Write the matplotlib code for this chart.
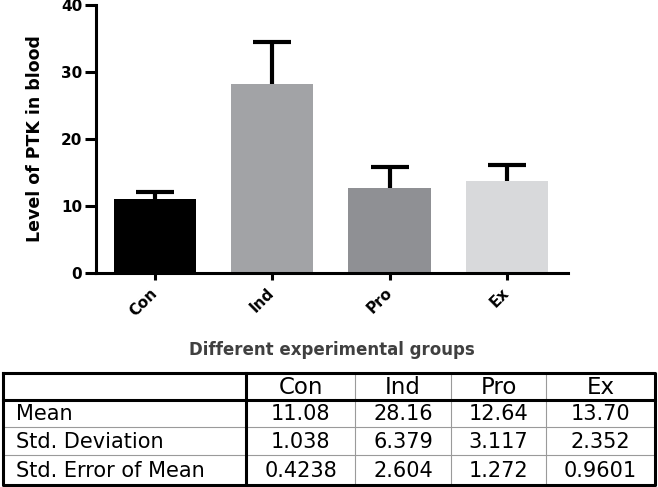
import matplotlib
matplotlib.use("Agg")
from matplotlib import pyplot as plt
import numpy as np

groups = ['Con', 'Ind', 'Pro', 'Ex']
means = [11.08, 28.16, 12.64, 13.70]
std_dev = [1.038, 6.379, 3.117, 2.352]
sem = [0.4238, 2.604, 1.272, 0.9601]
mean_txt = ['11.08', '28.16', '12.64', '13.70']
sd_txt = ['1.038', '6.379', '3.117', '2.352']
sem_txt = ['0.4238', '2.604', '1.272', '0.9601']
row_names = ['Mean', 'Std. Deviation', 'Std. Error of Mean']
bar_colors = ['#000000', '#A2A3A6', '#8F9094', '#D8D9DB']

plt.rcParams['font.family'] = ['DejaVu Sans']

fig = plt.figure(figsize=(6.58, 4.87), dpi=100)
W, H = 658, 487

# bar chart (pixel box of the plot area)
x0, x1, ytop, ybot = 96, 568, 5, 272.7
ax = fig.add_axes([x0 / W, 1 - ybot / H, (x1 - x0) / W, (ybot - ytop) / H])

ind = np.arange(len(groups))
ax.bar(ind, means, 0.7, color=bar_colors, zorder=2)
eb = ax.errorbar(ind, means, yerr=[np.zeros(len(means)), std_dev], fmt='none',
                 ecolor='black', elinewidth=3, capsize=14, capthick=3, zorder=3)
# GraphPad style: only the upper cap
eb[1][0].set_visible(False)

ax.set_xlim(-0.5, 3.52)
ax.set_ylim(0, 40)
ax.set_yticks([0, 10, 20, 30, 40])
ax.set_xticks(ind)
ax.set_xticklabels(groups, rotation=45, ha='right', va='center',
                   rotation_mode='anchor')
for lab in ax.get_xticklabels() + ax.get_yticklabels():
    lab.set_fontweight('bold')
    lab.set_fontsize(11)

for s in ['top', 'right']:
    ax.spines[s].set_visible(False)
for s in ['left', 'bottom']:
    ax.spines[s].set_linewidth(2.2)
ax.tick_params(axis='y', length=8, width=2.2, pad=2)
ax.tick_params(axis='x', length=5, width=2.2, pad=8)

ax.set_ylabel('Level of PTK in blood', fontsize=12.5, fontweight='bold')
ax.yaxis.set_label_coords(-0.129, 0.5)
ax.yaxis.label.set_va('center')
ax.set_xlabel('Different experimental groups', fontsize=12, fontweight='bold',
              color='#404040')
ax.xaxis.set_label_coords(0.5, (ybot - 350) / (ybot - ytop))
ax.xaxis.label.set_va('center')

# summary table drawn below the chart
tax = fig.add_axes([0, 0, 1, 1])
tax.set_xlim(0, W)
tax.set_ylim(H, 0)
tax.axis('off')

cols = [3, 246, 355, 451, 546, 655]
rows = [373, 400, 427, 455, 485]

for y in rows[2:-1]:
    tax.plot([cols[0], cols[-1]], [y, y], color='#9A9A9A', lw=0.8)
for x in cols[2:-1]:
    tax.plot([x, x], [rows[0], rows[-1]], color='#9A9A9A', lw=0.8)
tax.plot([cols[0], cols[-1], cols[-1], cols[0], cols[0]],
         [rows[0], rows[0], rows[-1], rows[-1], rows[0]], color='black', lw=2.2)
tax.plot([cols[1], cols[1]], [rows[0], rows[-1]], color='black', lw=2.2)
tax.plot([cols[0], cols[-1]], [rows[1], rows[1]], color='black', lw=2.2)

for j, g in enumerate(groups):
    cx = (cols[j + 1] + cols[j + 2]) / 2
    tax.text(cx, (rows[0] + rows[1]) / 2 + 1, g, ha='center', va='center', fontsize=16.5)
    for i, vals in enumerate([mean_txt, sd_txt, sem_txt]):
        tax.text(cx, (rows[i + 1] + rows[i + 2]) / 2 + 1, vals[j],
                 ha='center', va='center', fontsize=15)
for i, name in enumerate(row_names):
    tax.text(16, (rows[i + 1] + rows[i + 2]) / 2 + 1, name,
             ha='left', va='center', fontsize=15)

fig.savefig('out.png', dpi=100)
